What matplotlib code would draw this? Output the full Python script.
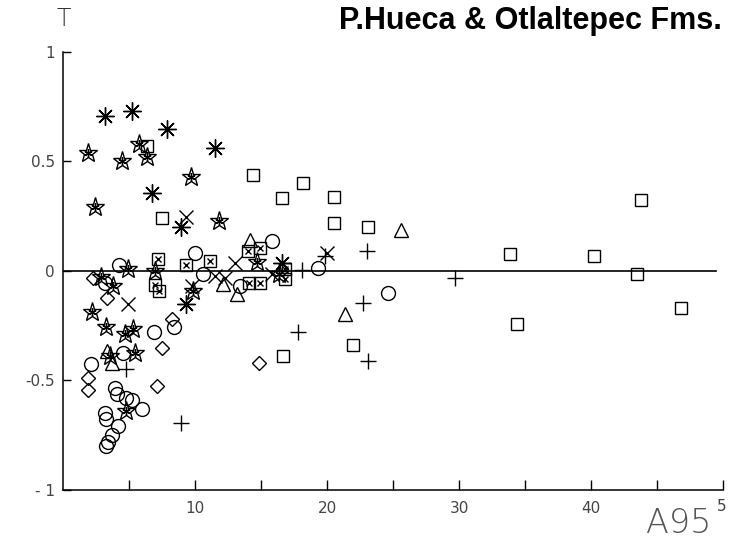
import numpy as np
import matplotlib
matplotlib.use("Agg")
import matplotlib.pyplot as plt

# data (A95 vs T)
ast_x = [3.2, 5.25, 7.85, 11.5, 6.72, 8.9, 9.3, 16.6]
ast_y = [0.71, 0.73, 0.65, 0.56, 0.355, 0.20, -0.152, 0.035]

star_x = [1.92, 4.45, 5.78, 6.39, 9.67, 2.4, 11.85, 4.95, 7.0, 2.9, 3.8, 9.87,
          2.2, 3.23, 4.7, 5.33, 5.45, 3.56, 4.8, 14.7, 16.4]
star_y = [0.54, 0.50, 0.58, 0.52, 0.43, 0.29, 0.23, 0.008, 0.0, -0.027, -0.068, -0.091,
          -0.188, -0.254, -0.289, -0.266, -0.375, -0.39, -0.638, 0.04, -0.015]

sq_x = [6.34, 7.5, 14.4, 18.2, 16.6, 20.5, 20.5, 23.1, 22.0, 16.7,
        33.9, 40.2, 43.8, 43.5, 46.8, 34.4]
sq_y = [0.57, 0.24, 0.44, 0.40, 0.335, 0.34, 0.22, 0.20, -0.338, -0.39,
        0.079, 0.068, 0.324, -0.015, -0.17, -0.24]

sqx_x = [7.17, 11.1, 9.3, 6.97, 7.27, 14.0, 14.9, 16.8, 16.8, 14.1, 14.9]
sqx_y = [0.053, 0.045, 0.027, -0.064, -0.091, 0.091, 0.106, 0.008, -0.038, -0.055, -0.055]

circ_x = [10.0, 4.24, 3.2, 10.6, 15.8, 13.4, 19.3, 24.6, 6.92, 8.4, 4.57, 2.1,
          3.94, 4.06, 4.8, 5.2, 6.0, 3.18, 3.25, 4.2, 3.7, 3.43, 3.23]
circ_y = [0.08, 0.027, -0.053, -0.012, 0.137, -0.068, 0.015, -0.099, -0.277, -0.256, -0.373, -0.426,
          -0.533, -0.563, -0.578, -0.59, -0.631, -0.65, -0.677, -0.708, -0.75, -0.78, -0.80]

dia_x = [2.25, 3.3, 8.23, 7.47, 1.92, 1.9, 7.1, 14.85]
dia_y = [-0.03, -0.122, -0.22, -0.353, -0.49, -0.545, -0.525, -0.42]

tri_x = [12.1, 13.2, 14.2, 25.6, 21.4, 3.36, 3.7]
tri_y = [-0.061, -0.107, 0.14, 0.187, -0.198, -0.365, -0.42]

x_x = [9.3, 13.0, 11.5, 12.3, 9.75, 4.95, 15.8, 20.0]
x_y = [0.245, 0.035, -0.023, -0.03, -0.07, -0.15, -0.012, 0.084]

plus_x = [4.8, 8.9, 17.8, 18.1, 19.85, 23.0, 29.7, 22.75, 23.1]
plus_y = [-0.449, -0.693, -0.28, 0.003, 0.068, 0.091, -0.03, -0.148, -0.41]

fig = plt.figure(figsize=(7.32, 5.44), dpi=100)
ax = fig.add_axes([0.0861, 0.0993, 0.9016, 0.8051])

kw = dict(linestyle="none", color="black", markerfacecolor="none", markeredgewidth=1.0, clip_on=False)
ax.plot(sq_x, sq_y, marker="s", markersize=9, **kw)
ax.plot(sqx_x, sqx_y, marker="s", markersize=9, **kw)
ax.plot(sqx_x, sqx_y, marker="x", markersize=5, **kw)
ax.plot(circ_x, circ_y, marker="o", markersize=10, **kw)
ax.plot(dia_x, dia_y, marker="D", markersize=7, **kw)
ax.plot(tri_x, tri_y, marker="^", markersize=10, **kw)
ax.plot(x_x, x_y, marker="x", markersize=10, **kw)
ax.plot(plus_x, plus_y, marker="+", markersize=12, **kw)
ax.plot(ast_x, ast_y, marker=(8, 2, 0), markersize=13, **kw)
ax.plot(star_x, star_y, marker="*", markersize=14, **kw)
ax.plot(star_x, star_y, marker=(6, 2, 0), markersize=6, **kw)

ax.plot([0, 49.5], [0, 0], color="black", linewidth=1.2)

ax.set_xlim(0, 50)
ax.set_ylim(-1, 1)
ax.spines["top"].set_visible(False)
ax.spines["right"].set_visible(False)
ax.spines["left"].set_linewidth(1.1)
ax.spines["bottom"].set_linewidth(1.1)

ax.set_xticks(np.arange(5, 51, 5))
ax.set_xticklabels(["", "10", "", "20", "", "30", "", "40", "", ""])
ax.set_yticks([-1, -0.5, 0, 0.5, 1])
ax.set_yticklabels(["- 1", "-0.5", "0", "0.5", "1"])
ax.tick_params(axis="x", direction="in", length=7, width=1, labelsize=11, labelcolor="#444444", pad=8)
ax.tick_params(axis="y", direction="in", length=6, width=1, labelsize=11, labelcolor="#444444", pad=6)

ax.text(49.9, -1.04, "5", ha="center", va="top", fontsize=11, color="#444444")
fig.text(0.087, 0.965, "T", ha="center", va="center", fontsize=17, color="#333333", fontweight="light")
fig.text(0.986, 0.962, "P.Hueca & Otlaltepec Fms.", ha="right", va="center",
         fontsize=22, fontweight="bold", family="Liberation Sans")
fig.text(0.972, 0.038, "A95", ha="right", va="center", fontsize=24, color="#555555", fontweight="light")

fig.savefig("out.png", dpi=100)
